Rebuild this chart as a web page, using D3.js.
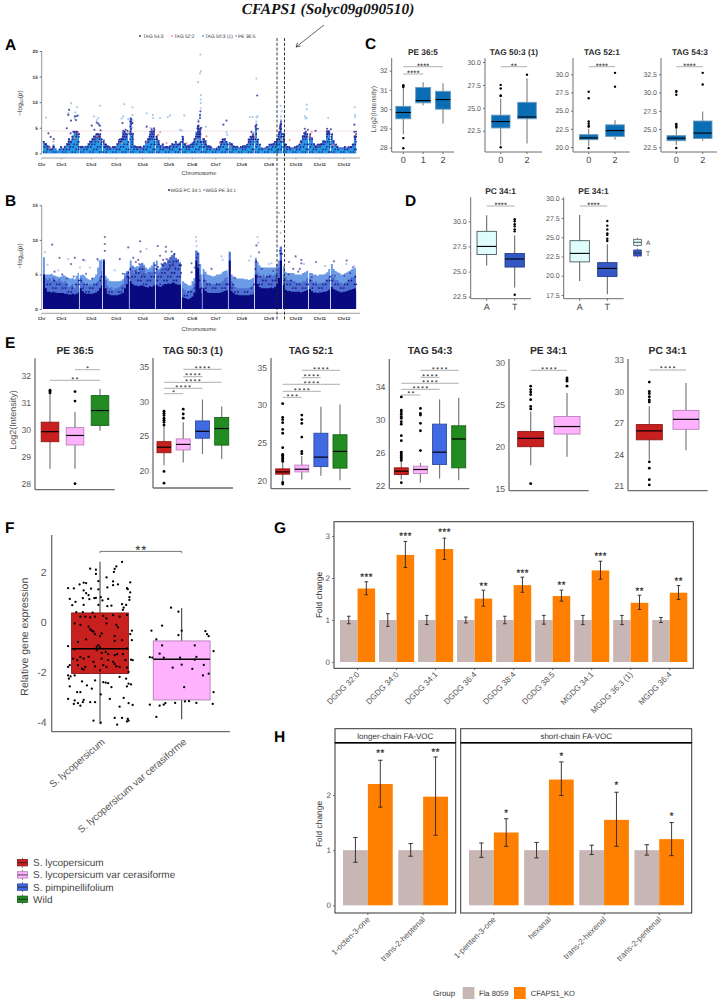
<!DOCTYPE html>
<html>
<head>
<meta charset="utf-8">
<style>
html,body{margin:0;padding:0;background:#fff}
svg{display:block;font-family:"Liberation Sans",Arial,sans-serif;text-rendering:geometricPrecision}
svg text{opacity:.99}
</style>
<script src="https://cdn.jsdelivr.net/npm/d3@7"></script>
</head>
<body>
<svg id="fig" width="722" height="1002"></svg>
<script>
// ---------- Genome-wide association data ----------
const chromNames = ["Chr","Chr1","Chr2","Chr3","Chr4","Chr5","Chr6","Chr7","Chr8","Chr9","Chr10","Chr11","Chr12"];
const chromLengths = [96,60,70,68,68,54,68,68,73,68,57,68]; // Mb
const binMb = 5;

// Peak -log10(p) reached in each 5 Mb window, one row per chromosome
const gwasNavy = [
 [2.4,2,1.6,1.3,1,1.7,1,.4,.8,1.4,1,1.5,2,3,2.5,3.5,4.3,4.3,4.2,4.2],
 [1.3,1.5,1.4,1.5,2,2.5,3,3.5,3.8,3.8,3.8,3],
 [2.7,1.8,1.6,1.4,1.2,1.4,1.4,2,2.8,3,4.2,4.3,4,2.4],
 [7,4,1.6,1.4,1.3,1.3,1.2,1.6,2.5,3,3.8,4.5,4.5,2.8],
 [3.5,2.6,1.6,1.9,1.3,1.3,1.3,1.6,2,1.8,2.4,1.8,2.2,2.5],
 [3.4,2,1.6,1.7,1.8,2.2,3,4.2,5.5,5,2.5],
 [3,2.6,1.6,1.6,1.3,1,1,1.2,1.5,2.3,2.8,3,2.4,1.8],
 [2.2,2,1.6,1.4,1.5,1.2,1.4,1.6,1.6,1.8,2.8,3.4,4,3.6],
 [5.5,2.8,1.8,1.2,1.1,1.2,1.4,1.8,1.8,2,2.4,3,4.2,6,4],
 [4,1.8,1.4,1.3,1.2,1.2,1.3,1.6,1.8,2.6,3.6,4.2,3.9,2.2],
 [3.8,3.2,2,1.6,1.8,1.8,2,2.6,2.5,4.5,4.5,2.5],
 [3.8,2.6,1.8,1.5,1.2,1.2,1.2,1.4,1.2,1.3,1.4,1.8,3.5,4.4]
];
const gwasCyan = [
 [1.8,1.4,1,.5,.5,.8,1,.6,.4,.9,.5,.8,1.5,1.2,1.8,3,3.6,3.5,3.5,3.4],
 [.8,1,1.2,.9,1.5,1.8,2,2.3,2.6,2.8,2.6,2],
 [1.7,1,.9,.8,.8,.7,.8,1.2,1.8,2,2.5,3,2.8,1.6],
 [4,2,1,.8,.7,.6,.7,1,1.8,2,2.5,3,3,1.5],
 [2.4,1.5,.9,1.2,.7,.8,.8,.9,1.3,1,1.6,1.2,1.5,1.6],
 [1.9,1.2,.9,1,1.1,1.4,1.8,2.6,3,2.6,1.5],
 [1.8,1.5,1,1,.8,.7,.6,.6,1,1.5,1.8,2.2,1.7,1.2],
 [1.6,1.4,1,1,1,.8,.9,1,1,1.2,1.8,2,2.3,2.2],
 [4.5,2,1.2,.8,.7,.8,.9,1.2,1.3,1.5,1.6,1.8,2.5,4,2.8],
 [2,1.2,.9,.8,.7,.8,.8,1,1.2,1.8,2.6,3,2.6,1.4],
 [3,2.2,1.4,1,1.2,1.2,1.5,1.8,1.6,3,3.6,1.5],
 [2.6,1.8,1.2,1,.9,.8,.8,.9,.8,.9,.9,1.1,2.5,3]
];
// Individual variants above the dense band: [cumulative Mb, -log10(p)]
const gwasCyanHits = [[410,19.3],[411,16],[409,15.6],[404,13.9],[411,11.4],[411,10.5],[411,9.8],[411,8.8],[556,14.6],[73,9.8],[148,9.3],[212,9.6],[233,9],[89,9],[8,7],[66,7.8],[86,7.2],[133,7.2],[144,6.9],[209,7.2],[222,6.7],[233,7.5],[233,6.5],[270,7.8],[286,7.5],[287,6.9],[305,6.9],[325,7.1],[331,7.4],[368,7.4],[539,7.1],[546,7.1],[559,7.2],[619,9.3],[622,8.2],[620,7.2],[687,9.5],[687,8.6],[682,7.2],[687,6.9],[743,6.9],[812,9],[813,7.5],[813,7.1],[409,7.2],[405,6.5],[424,5.2],[357,4.6],[361,4.5],[478,4.1],[480,3.6],[556,7],[556,6.2],[556,5.4],[233,6],[233,5],[84,8],[82,6.8],[92,7.4],[140,6.5],[146,5.5],[205,6.8],[280,5],[620,6.5],[684,6.8]];
const gwasNavyHits = [[558,11.3],[68,8.5],[66,7.5],[73,6.4],[62,4.9],[83,7.2],[89,7.3],[86,6.5],[127,5.4],[148,5.4],[144,5.8],[140,6],[207,5.9],[209,4.4],[220,4.4],[233,5.9],[270,5.2],[283,4.7],[289,4.9],[279,4.2],[410,8.2],[409,7.5],[409,6.9],[405,6.2],[402,4.9],[407,4.2],[478,6.4],[470,5.6],[543,4.2],[556,5.6],[620,6.2],[619,5.6],[617,4.9],[616,4.2],[685,4.2],[680,3.9],[743,4.2],[746,3.9],[811,5.6],[811,4.2],[813,3.3],[72,3.9],[79,4.2],[14,3.9],[20,3.2],[28,2.8],[134,4.6],[150,4.5],[215,4.6],[225,3.8],[290,4.6],[405,5.4],[412,5],[560,4.8],[618,5.2],[682,4.8],[690,4.6],[710,4.4],[740,4.8],[750,4.7]];
const gwasSalmonHits = [[92,3.9],[148,2.3],[140,3.3],[222,3.9],[305,4.1],[300,3.6],[426,3.3],[400,2.6],[548,3.9],[552,3.3],[700,4.2],[695,3.4],[643,2.6],[18,1],[27,2.3],[83,2.9],[205,2],[270,2.3],[322,2],[374,2],[461,2],[487,1.3],[621,2.6],[669,2],[756,1.6]];

const wgsLight = [
 [7.5,5,5,5,5.1,4.9,4.8,4.7,4.6,4.7,4.9,4.8,4.6,4.5,4.4,4.5,4.3,4.8,5.2,5.2],
 [4.9,5,4.8,4.5,4.3,4.2,4.4,4.6,5,6,7,7.2],
 [7.2,4.8,4.4,4.1,4,4,4,4,4,4.1,4.3,5.2,5.5,5.6],
 [7,6.3,6,6.2,6.2,6.5,6.7,6.4,6,5.8,6,6.3,6.8,7],
 [7,5.8,6,6.5,6.8,6.5,7,7,7.5,7.5,7.3,7,6.8,7.3],
 [4,3.8,3.6,3.4,3.4,4,4.5,8.5,8.2,6.5,5],
 [5.8,5.4,5,4.9,4.8,4.7,4.8,5,5,5.1,5.4,5.5,5.6,5.4],
 [8.3,5,4.7,4.5,4.4,4.4,4.4,4.4,4.3,4.3,4.2,4.3,4.5,4.6],
 [7.4,6.8,6.3,6,6,6,6,6,6,6,6,6.5,7,9,9.2],
 [6.2,5.4,5.2,5.2,5.2,5.2,5,5,5,5,5.2,5.3,5.5,5.8],
 [5.2,5.2,5,5,4.8,5,5,5,5.1,5.3,5.8,6],
 [6.5,5.8,5.5,5.3,5.2,5,5,5.2,5.3,5.5,5.7,5.8,6,5.2]
];
const wgsDark = [
 [5,3,2.5,2.5,2.4,2.5,2.4,2.3,2.3,2.3,2.3,2.2,2.2,2.1,2.1,2.2,2.1,2.2,2.4,3],
 [3,2.6,2.3,2.2,2.2,2.2,2.2,2.3,2.4,2.6,3,3.4],
 [7,3,2.2,2.1,2,2,2,2,2.1,2.2,2.3,3,3.6,4.8],
 [4,3.6,3.4,3.4,3.3,3.4,3.4,3.3,3.2,3.1,3.3,3.2,3.4,3.6],
 [3.5,3.3,3.2,3.4,3.6,3.6,3.7,3.6,3.8,3.8,3.6,3.5,3.5,3.4],
 [1.7,1.6,1.5,1.4,1.6,1.8,2.4,7,6,3,2.3],
 [3,2.6,2.4,2.3,2.3,2.3,2.3,2.3,2.3,2.4,2.5,2.6,2.7,2.6],
 [7,2.6,2.3,2.1,2.1,2,2,2,2,2,2,2.1,2.1,2.5],
 [5,3.6,3.2,3,3,3,3,3,3.1,3,3.2,3.6,4.5,7,7.4],
 [3.5,2.8,2.6,2.6,2.5,2.5,2.5,2.5,2.5,2.4,2.5,2.6,2.7,2.9],
 [2.9,2.6,2.4,2.4,2.3,2.4,2.4,2.5,2.5,2.6,2.8,3],
 [3.2,2.9,2.7,2.6,2.5,2.4,2.5,2.5,2.6,2.7,2.8,2.9,3,2.6]
];
// Upper reach of the sparser dark variants above the solid dark band
const wgsDarkFringe = [
 [5,4.5,4.2,4.5,4,4.6,4.2,4,4.4,4,3.8,4,3.6,3.2,3.4,3.6,3,3.6,4.2,4.6],
 [4.5,4,3.6,3.6,3.4,3.6,3.4,3.6,3.8,4,4.6,5.5],
 [7.2,4.2,3.4,3,3.2,2.8,3,3,3.2,3.4,3.6,4.6,5.2,5.5],
 [6,5.6,5.2,5.8,5.4,6.2,6.6,6,5.2,5,5.4,5.4,6,6.4],
 [6,5.4,5.8,6.4,6.8,6.6,7.2,7.4,7.8,8,7.4,7.2,6.6,6.4],
 [3,2.8,2.4,2.6,2.8,3,3.6,8.4,8,5,3.8],
 [5,4.2,3.8,3.8,3.6,3.6,3.6,3.8,3.6,3.8,4,4.4,4.6,4.2],
 [8.2,4,3.6,3.2,3,3,3,3,3,3,3,3.2,3.4,3.8],
 [7,5.2,4.8,4.8,5,4.6,4.8,5,5,4.8,5,5.4,6,9,9],
 [5,4.6,4.2,4.2,4.2,4,4,3.8,3.8,3.8,4,4,4.4,4.6],
 [4.4,4.2,3.8,4,3.6,3.8,3.8,3.8,4,4.2,4.6,4.8],
 [5,4.6,4.2,4.2,3.8,3.8,3.6,3.8,4,4.2,4.6,4.6,4.8,4.2]
];
const wgsDarkHits = [[24,9.3],[43,7.4],[73,6.5],[83,7.4],[105,7.1],[142,7.2],[161,10.4],[161,9.4],[161,8.4],[200,7.2],[222,8.9],[253,9.8],[254,8.3],[235,7.4],[242,6.8],[248,7.1],[251,6.5],[235,6],[299,9.1],[320,9],[320,8.3],[335,8.3],[305,7.7],[313,7.1],[322,7.2],[326,6.8],[332,7.4],[332,6.8],[318,6.6],[309,6.5],[339,6.5],[331,6],[344,6],[352,7],[387,6.6],[387,5.3],[439,5.8],[556,9.2],[563,8.2],[617,8.4],[641,6.8],[652,5.8],[658,7.6],[673,7.1],[673,6.6],[669,5.8],[711,6.8],[758,6.9],[791,7],[807,6],[30,5.4],[50,5],[62,4.4],[80,4.7],[112,5.1],[128,4.4],[208,5.1],[225,4.5],[240,5.5],[262,5],[275,5.2],[300,6.1],[312,5.7],[325,5.6],[340,5.2],[395,6],[500,4.5],[570,5.8],[600,5.5],[640,5],[665,5.4],[700,4.6],[760,4.8],[785,4.8],[800,5.2]];
const wgsLightHits = [[5,8.2],[12,6.4],[66,7.2],[40,5.6],[96,6],[109,7],[122,6],[144,7],[187,5.6],[270,8.7],[465,7.6],[468,7.1],[537,7],[541,7.6],[588,6.5],[595,6.6],[399,10.4],[399,9.8],[400,9.1],[559,10.4],[561,9.6],[615,13.9],[620,12.7],[619,11],[680,6.5],[735,6.2],[790,6.5],[810,6.2]];

// ---------- Box plot statistics: [q1, median, q3, whisker low, whisker high] ----------
const cTitles = ["PE 36:5","TAG 50:3 (1)","TAG 52:1","TAG 54:3"];
const cGroups = [["0","1","2"],["0","2"],["0","2"],["0","2"]];
const cBoxes = [
 [[29.5,29.83,30.15,28.7,31.1],[30.33,30.45,31.13,30.2,31.4],[30,30.5,30.93,29.25,31.35]],
 [[22.8,23.5,24.2,20.9,26],[23.8,24,25.6,21.1,28.2]],
 [[21,21.25,21.7,20.1,22.5],[21.45,22.25,23.05,21,23.7]],
 [[23.4,23.75,24.1,22.8,25],[23.7,24.45,26.1,23.4,27.4]]
];
const cOutliers = [
 [[28.5,27.97,31.15,31.2,31.25],[],[]],
 [[20.7,26.3,26.35,27.1,27.5],[28.6]],
 [[19.85,22.8,22.9,23.2,23.5,26.7,27.6],[28.3,30.2]],
 [[22.4,25.2,25.4,25.6,25.7,29.7,30.1,30.2],[31.1,32.7]]
];
const cTicks = [[28,29,30,31,32],[22.5,25,27.5,30],[20,22.5,25,27.5,30],[22.5,25,27.5,30,32.5]];
const cStars = [[["****",0,1],["****",0,2]],[["**",0,1]],[["****",0,1]],[["****",0,1]]];

const dTitles = ["PC 34:1","PE 34:1"];
const dGroups = ["A","T"];
const dBoxes = [
 [[26.7,27.5,29,25.6,30.6],[25.45,26.25,26.8,23.4,28.6]],
 [[21.8,22.9,24.55,19.3,27.9],[19.9,20.95,21.7,17.6,24.1]]
];
const dOutliers = [
 [[],[22.7,29,29.2,29.5,29.7,30,30.2]],
 [[],[24.5,24.8,25.3,25.5,26,26.5,27.1]]
];
const dTicks = [[22.5,25,27.5,30],[17.5,20,22.5,25,27.5,30]];

const eTitles = ["PE 36:5","TAG 50:3 (1)","TAG 52:1","TAG 54:3","PE 34:1","PC 34:1"];
const eBoxes = [
 [[29.55,29.92,30.27,28.55,31.3],[29.43,29.78,30.07,28.55,30.65],[30.15,30.7,31.25,29.95,31.5]],
 [[22.6,23.4,24.2,20.8,26.5],[23,23.8,24.6,21.2,27],[24.7,25.7,27.2,22.4,30.3],[23.7,26.1,27.7,21.7,29.3]],
 [[20.9,21.2,21.6,20,22.5],[21.2,21.55,22.1,20.2,23.3],[21.9,23.15,26.3,20.7,29.8],[21.7,23.9,26.1,20.1,30.1]],
 [[23.4,23.8,24.2,22.8,25],[23.5,24,24.4,22.4,24.8],[24.6,26.1,29.5,22.9,32.5],[24.2,27.7,29.3,22.7,32.7]],
 [[20,21,21.8,17.8,24.2],[21.5,22.4,23.6,18.8,26.4]],
 [[25.4,26.25,26.85,23.5,28.6],[26.4,27.35,28.2,24.4,30.8]]
];
const eOutliers = [
 [[31.35,31.4,31.45],[28,31.05,31.4],[]],
 [[18.2,19.9,26.6,27,27.3,27.6,28,28.3,28.6],[27.6,28.2,28.9],[],[]],
 [[19.6,19.8,22.6,22.8,23,23.2,23.4,23.5,24.4,26.3,26.8,27.7,28.1,28.4,30.2],[23.6,23.9,25.8,27.6,28.1,28.7],[],[]],
 [[22.4,25.1,25.3,25.5,25.7,25.9,26.1,27.5,28.1,29.5,29.8,30.2,30.4,30.7,31,31.2,32.8],[26.3,28.7,29.6,30.6,30.8,31.4],[],[]],
 [[15.6,24.5,24.8,25.6,26.2,26.5,26.8,27.2],[27.2,27.8,28,28.2]],
 [[21.1,21.6,22.7,23.3,29,29.2,29.5,29.8,30,30.9],[]]
];
const eTicks = [[28,29,30,31,32],[20,25,30,35],[20,25,30,35],[22,26,30,34],[15,20,25,30],[21,24,27,30,33]];
const eStars = [
 [["*",1,2],["**",0,2]],
 [["****",1,3],["****",1,2],["****",0,3],["****",0,2],["*",0,1]],
 [["****",1,3],["****",1,2],["****",0,3],["****",0,2],["***",0,1]],
 [["****",1,3],["****",1,2],["****",0,3],["****",0,2],["**",0,1]],
 [["****",0,1]],
 [["****",0,1]]
];
const speciesNames = ["S. lycopersicum","S. lycopersicum var cerasiforme","S. pimpinellifolium","Wild"];
const speciesColors = ["#c8201f","#ffb3ff","#4169e1","#228b22"];

// ---------- Gene expression ----------
const fGroups = ["S. lycopersicum","S. lycopersicum var cerasiforme"];
const fBoxes = [[-2.07,-1.08,.35,-4.1,2.4],[-3.13,-1.5,-.77,-3.9,.55]];
const fLycoPoints = [[.27,2.39],[.2,2.21],[.18,2.11],[.17,1.99],[-.12,2.12],[-.05,2.08],[-.05,1.91],[.08,1.77],[.16,1.61],[.22,1.49],[.37,1.57],[-.02,1.62],[-.39,1.34],[-.32,1.33],[-.25,1.49],[-.2,1.56],[-.17,1.54],[-.11,1.32],[-.02,1.29],[.09,1.37],[.16,1.46],[.33,1.34],[.34,1.3],[.37,1.17],[-.2,1.25],[-.17,1.14],[-.14,1.06],[-.37,.91],[-.3,.79],[-.21,.94],[-.13,.9],[-.07,.94],[-.05,.95],[.01,.98],[.03,.85],[.1,.91],[.27,.7],[.36,.98],[.36,.87],[-.34,.66],[-.2,.67],[-.02,.67],[.09,.62],[.14,.64],[.29,.56],[.32,.67],[.28,.47],[-.29,.38],[-.21,.38],[-.09,.36],
 [-.24,.2],[-.18,.2],[-.12,.17],[-.06,.2],[.04,.23],[.08,.13],[.16,.26],[.24,.2],[.33,.27],[-.31,-.07],[-.24,-.13],[-.14,-.2],[-.12,-.31],[-.1,-.36],[-.08,-.4],[-.06,-.5],[0,-.58],[.02,-.47],[.2,-.13],[.22,-.23],[.08,-.07],[.18,-.58],[.27,-.74],[.39,-.36],[.37,-.5],[.39,-.74],[-.17,-.71],[-.27,-.81],[-.39,-.98],[-.04,-1.01],[-.02,-.94],[0,-1.03],[.18,-.77],[-.31,-1.11],[-.24,-1.41],[-.2,-1.48],[-.14,-1.41],[-.04,-1.14],[.02,-1.25],[.07,-1.21],[.1,-1.3],[.18,-1.34],[.21,-1.3],[.28,-1.3],[.33,-1.07],[-.33,-1.48],[-.28,-1.54],[-.08,-1.61],[.02,-1.48],[.1,-1.54],[.16,-1.61],[.31,-1.54],[.38,-1.52],[.4,-1.54],[-.37,-1.74],[-.39,-1.81],[-.27,-1.74],[-.18,-1.81],[-.06,-1.79],[.04,-1.74],[.08,-1.81],[.2,-1.79],[.24,-1.81],[.33,-1.84],[-.22,-1.88],[-.2,-1.92],[0,-1.95],[.35,-2.01],[.18,-1.7],
 [-.39,-2.15],[-.36,-2.19],[-.38,-2.28],[-.31,-2.15],[-.22,-2.39],[-.16,-2.55],[-.06,-2.35],[.04,-2.42],[.07,-2.44],[.1,-2.46],[.14,-2.62],[.24,-2.21],[.32,-2.28],[.35,-2.48],[.38,-2.51],[.33,-2.59],[-.37,-2.59],[-.1,-2.68],[-.28,-2.82],[-.24,-2.82],[.01,-2.91],[-.39,-3.09],[-.31,-3.15],[-.2,-3.13],[-.12,-3.22],[-.06,-3.22],[.12,-3.09],[.29,-3.05],[.35,-3.26],[.4,-3.33],[-.27,-3.26],[-.32,-3.29],[-.21,-3.22],[-.24,-3.36],[.24,-3.4],[.18,-3.85],[.27,-3.85],[.34,-3.89],[-.08,-3.96],[.01,-4.04],[.21,-4.12],[.33,-3.99],[.35,-3.96]];
const fCerasPoints = [[-.13,.56],[-.04,.4],[-.37,-.36],[-.24,-.16],[0,-.36],[-.04,-.54],[.29,-.38],[.31,-.5],[.33,-.58],[-.31,-.71],[-.24,-.95],[.16,-.95],[-.27,-1.28],[.39,-1.18],[-.39,-1.42],[-.36,-1.44],[-.22,-1.44],[-.02,-1.44],[.18,-1.41],[.16,-1.52],[-.11,-1.84],[0,-1.72],[.13,-1.89],[.27,-1.73],[.26,-2.15],[.33,-2.08],[.03,-2.62],[.39,-2.82],[-.39,-3.32],[-.27,-3.36],[-.22,-3.32],[-.2,-3.26],[-.08,-3.25],[.04,-3.19],[.09,-3.18],[.18,-3.25],[.38,-3.29],[-.31,-3.81]];

// ---------- Fold-change bars ----------
const bothGroups = ["Fla 8059","CFAPS1_KO"];
const groupColors = ["#c8b6b4","#ff8000"];
const gLipids = ["DGDG 32:0","DGDG 34:0","DGDG 34:1","DGDG 36:4","DGDG 38:4","DGDG 38:5","MGDG 34:1","MGDG 36:3 (1)","MGDG 36:4"];
const gControl = [1,1,1,1,1,1,1,1,1];
const gControlErr = [[.91,1.09],[.85,1.15],[.89,1.11],[.93,1.07],[.91,1.09],[.9,1.11],[.89,1.11],[.89,1.11],[.94,1.06]];
const gKnockout = [1.75,2.55,2.69,1.51,1.83,1.57,2.18,1.41,1.65];
const gKnockoutErr = [[1.6,1.91],[2.25,2.87],[2.44,2.95],[1.33,1.71],[1.66,2.02],[1.45,1.71],[1.97,2.4],[1.25,1.59],[1.49,1.82]];
const gSignif = ["***","***","***","**","***","**","***","**","**"];
const gSignifLevel = [2.09,3.05,3.14,1.86,2.17,1.9,2.57,1.75,1.98];

const hFacets = ["longer-chain FA-VOC","short-chain FA-VOC"];
const hVolatiles = [["1-octen-3-one","trans-2-heptenal"],["1-penten-3-one","hexanal","trans-2-hexenal","trans-2-pentenal"]];
const hControl = [[1,1],[1,1,1,1]];
const hControlErr = [[[.78,1.23],[.89,1.12]],[[.87,1.13],[.86,1.14],[.92,1.09],[.91,1.1]]];
const hKnockout = [[2.2,1.97],[1.32,2.28,1.55,1.2]];
const hKnockoutErr = [[[1.78,2.63],[1.27,2.69]],[[1.07,1.57],[1.99,2.6],[1.07,2.05],[.9,1.5]]];
const hSignif = [["**","**"],["*","*","*","*"]];
const hSignifLevel = [[2.8,2.83],[1.71,2.75,2.23,1.66]];

// ---------- Shared drawing helpers ----------
const svg = d3.select("#fig");
const TICK = "#555", AXIS = "#6e6e6e";

function label(g, x, y, txt, o = {}) {
  const t = g.append("text").attr("x", x).attr("y", y).text(txt)
    .attr("font-size", o.size || 8).attr("fill", o.fill || TICK)
    .attr("text-anchor", o.anchor || "middle");
  if (o.weight) t.attr("font-weight", o.weight);
  if (o.family) t.attr("font-family", o.family);
  if (o.italic) t.attr("font-style", "italic");
  return t;
}
// Significance stars: spacing is given in em so stacked brackets can use small, widely set type
function stars(g, x, yCenter, txt, size, spacing, fill) {
  const ink = fill || "#3c3c3c";
  label(g, x + size * spacing / 2, yCenter + size * 0.56, txt, {size, fill: ink})
    .attr("letter-spacing", size * spacing).attr("stroke", ink).attr("stroke-width", .2);
}
function styleAxis(sel, size, color) {
  sel.selectAll("path,line").attr("stroke", AXIS);
  sel.selectAll("text").attr("font-size", size).attr("fill", color || TICK).attr("font-family", null);
}

// One ggplot-like box with whiskers, thick median and outlier dots
function drawBox(g, cx, halfW, y, stat, outs, fill, edge, medW, dotR, whisker) {
  const [q1, med, q3, lo, hi] = stat;
  g.append("line").attr("x1", cx).attr("x2", cx).attr("y1", y(lo)).attr("y2", y(hi))
    .attr("stroke", whisker.color).attr("stroke-width", whisker.width);
  g.append("rect").attr("x", cx - halfW).attr("width", halfW * 2)
    .attr("y", y(q3)).attr("height", y(q1) - y(q3))
    .attr("fill", fill).attr("stroke", edge).attr("stroke-width", .9);
  g.append("line").attr("x1", cx - halfW).attr("x2", cx + halfW).attr("y1", y(med)).attr("y2", y(med))
    .attr("stroke", "#000").attr("stroke-width", medW);
  g.selectAll(null).data(outs).join("circle")
    .attr("cx", cx).attr("cy", d => y(d)).attr("r", dotR).attr("fill", "#000");
}

function boxPanel(p, title, groups, boxes, outs, ticks, fills, edges, brackets, style) {
  const g = svg.append("g");
  const y = d3.scaleLinear().domain([ticks[0], ticks[ticks.length - 1]]).range([p.y0, p.y1]);
  const x = d3.scalePoint().domain(groups).range([p.c0, p.c1]);
  const left = d3.axisLeft(y).tickValues(ticks).tickSize(2).tickPadding(2)
    .tickFormat(d => style.tickFmt(d));
  const ya = g.append("g").attr("transform", `translate(${p.x0},0)`).call(left);
  ya.select(".domain").attr("d", `M0,${p.top}V${p.bottom}`);
  styleAxis(ya, style.tickSize);
  if (style.noYTick) ya.selectAll(".tick line").remove();
  g.append("line").attr("x1", p.x0).attr("x2", p.x1).attr("y1", p.bottom).attr("y2", p.bottom)
    .attr("stroke", AXIS).attr("stroke-width", style.axisW || 1);
  ya.select(".domain").attr("stroke-width", style.axisW || 1);
  if (style.showX !== false) {
    groups.forEach(c => {
      g.append("line").attr("x1", x(c)).attr("x2", x(c)).attr("y1", p.bottom).attr("y2", p.bottom + 2).attr("stroke", AXIS);
      label(g, x(c), p.bottom + style.xOff, c, {size: style.xSize, fill: "#444"});
    });
  }
  label(g, p.titleX, p.titleY, title, {size: style.titleSize, weight: "bold", fill: "#2a2a2a"});
  groups.forEach((c, i) => drawBox(g, x(c), style.halfW, y, boxes[i], outs[i], fills[i], edges[i], style.medW, style.dotR, style.whisker));
  (brackets || []).forEach((b, i) => {
    const by = p.levels[i];
    g.append("line").attr("x1", x(groups[b[1]])).attr("x2", x(groups[b[2]])).attr("y1", by).attr("y2", by)
      .attr("stroke", "#9a9a9a").attr("stroke-width", .8);
    stars(g, (x(groups[b[1]]) + x(groups[b[2]])) / 2, by - style.starGap, b[0], style.starSize, style.starSpacing);
  });
}

// ---------- Panels A and B: Manhattan plots ----------
const genomeTotal = d3.sum(chromLengths);
const xGenome = d3.scaleLinear().domain([0, genomeTotal]).range([43, 357]);
const chromStart = d3.cumsum([0].concat(chromLengths));
const chromEnd = c => chromStart[c] + chromLengths[c] - 2.4;

// Solid band for one series, one stepped area per chromosome so the gaps between chromosomes stay white
function bandAreas(g, rows, y, color) {
  rows.forEach((row, c) => {
    const pts = row.map((v, i) => [Math.min(chromStart[c] + i * binMb, chromEnd(c)), v]);
    pts.push([chromEnd(c), row[row.length - 1]]);
    g.append("path").datum(pts).attr("fill", color)
      .attr("d", d3.area().curve(d3.curveStepAfter).x(d => xGenome(d[0])).y0(y(0)).y1(d => y(d[1])));
  });
}
// Scattered variants inside a window, from a floor height up to the window's measured reach
function stackDots(g, rows, floors, y, color, keep, step, r) {
  rows.forEach((row, c) => {
    row.forEach((top, i) => {
      const floor = floors ? floors[c][i] : 0;
      [1.2, 3.6].forEach((off, col) => {
        const mb = Math.min(chromStart[c] + i * binMb + off, chromEnd(c));
        d3.range(0, top, step).forEach((v, k) => {
          if (v + step / 2 > top) return;
          if (!keep(v, floor, k + i * 2 + col * 3)) return;
          g.append("circle").attr("cx", xGenome(mb)).attr("cy", y(v + step / 2)).attr("r", r).attr("fill", color);
        });
      });
    });
  });
}
function hitDots(g, hits, y, color, op) {
  g.selectAll(null).data(hits).join("circle")
    .attr("cx", d => xGenome(d[0])).attr("cy", d => y(d[1])).attr("r", 1.1)
    .attr("fill", color).attr("opacity", op);
}
function manhattanFrame(g, y, ticks, axisTop, axisY, labelY, chrY, ylabX, ylabCY) {
  const a = g.append("g").attr("transform", "translate(41.7,0)")
    .call(d3.axisLeft(y).tickValues(ticks).tickSize(2).tickPadding(2));
  styleAxis(a, 4.6, "#333");
  a.selectAll("text").attr("font-weight", "bold");
  a.select(".domain").attr("d", `M0,${axisTop}V${y(0)}`).attr("stroke", "#999").attr("stroke-width", 1);
  g.append("line").attr("x1", 41.7).attr("x2", 360).attr("y1", axisY).attr("y2", axisY).attr("stroke", "#888").attr("stroke-width", .8);
  const centres = [41.7].concat(chromLengths.map((l, i) => xGenome(chromStart[i] + l / 2)));
  centres.forEach((cx, i) => {
    g.append("line").attr("x1", cx).attr("x2", cx).attr("y1", axisY).attr("y2", axisY + 1.5).attr("stroke", "#888").attr("stroke-width", .6);
    label(g, cx, chrY, chromNames[i], {size: 4.4, fill: "#333", weight: "bold"});
  });
  label(g, 199, labelY, "Chromosome", {size: 5.8, fill: "#333"});
  const yl = g.append("text").attr("transform", `translate(${ylabX},${ylabCY}) rotate(-90)`)
    .attr("text-anchor", "middle").attr("font-size", 6.5).attr("fill", "#333");
  yl.append("tspan").text("\u2212log");
  yl.append("tspan").text("10").attr("font-size", 4.4).attr("dy", 1.2);
  yl.append("tspan").text("(").attr("dy", -1.2);
  yl.append("tspan").text("p").attr("font-style", "italic");
  yl.append("tspan").text(")");
}

const gA = svg.append("g");
const yA = d3.scaleLinear().domain([0, 20]).range([153.3, 51]);
gA.append("line").attr("x1", 43).attr("x2", 357).attr("y1", yA(4.35)).attr("y2", yA(4.35)).attr("stroke", "#ecd8dc").attr("stroke-width", .8);
hitDots(gA, gwasCyanHits, yA, "#8bb8e6", .75);
bandAreas(gA, gwasNavy, yA, "#4a6fd0");
bandAreas(gA, gwasCyan, yA, "#239be4");
stackDots(gA, gwasNavy, gwasCyan, yA, "#23238e", (v, floor, k) => (v >= floor && k % 2 === 0) || k % 5 === 0, .5, .85);
hitDots(gA, gwasNavyHits, yA, "#2c2c8e", .8);
hitDots(gA, gwasSalmonHits, yA, "#e88a7c", .8);
manhattanFrame(gA, yA, [0, 5, 10, 15, 20], 51, 158, 175, 166, 22, 103);

[[140, "#1d1d80", "TAG 54:3", 143], [172, "#e8a09a", "TAG 52:2", 174], [203, "#3aa0e0", "TAG 50:3 (1)", 205], [236, "#7db4e8", "PE 36:5", 238]].forEach(d => {
  gA.append("circle").attr("cx", d[0]).attr("cy", 36).attr("r", .9).attr("fill", d[1]);
  label(gA, d[3], 37.8, d[2], {size: 4.9, anchor: "start", fill: "#333"});
});

const gB = svg.append("g");
const yB = d3.scaleLinear().domain([0, 15]).range([309, 205.3]);
hitDots(gB, wgsLightHits, yB, "#9cbcea", .8);
bandAreas(gB, wgsLight, yB, "#6c9be6");
bandAreas(gB, wgsDarkFringe, yB, "#4d70d2");
stackDots(gB, wgsDarkFringe, wgsDark, yB, "#1a1a88", (v, floor, k) => v >= floor && k % 5 === 0, .55, .9);
bandAreas(gB, wgsDark, yB, "#0a0a80");
hitDots(gB, wgsDarkHits, yB, "#3a3590", .7);
manhattanFrame(gB, yB, [0, 5, 10, 15], 205.3, 313.3, 331, 320, 22, 256);
[[169, "#10107f", "WGS PC 34:1", 170.5], [204, "#7da6ea", "WGS PE 34:1", 205.5]].forEach(d => {
  gB.append("circle").attr("cx", d[0]).attr("cy", 190).attr("r", .9).attr("fill", d[1]);
  label(gB, d[3], 191.8, d[2], {size: 4.9, anchor: "start", fill: "#333"});
});

// Gene interval marker spanning both Manhattan plots
[277, 284.5].forEach(x => svg.append("line").attr("x1", x).attr("x2", x).attr("y1", 38).attr("y2", 320)
  .attr("stroke", "#222").attr("stroke-width", .9).attr("stroke-dasharray", "3,1.8"));
label(svg, 328, 14, "CFAPS1 (Solyc09g090510)", {size: 15.4, weight: "bold", italic: true, family: "Liberation Serif", fill: "#111"});
svg.append("path").attr("d", "M324,25L296,47M296,47l1.6,-4.5M296,47l4.6,-1").attr("fill", "none").attr("stroke", "#222").attr("stroke-width", .7);

// ---------- Panel C ----------
const cLayout = [
 {x0:391.7,x1:454,top:58,bottom:152,y0:147.7,y1:70.7,c0:403.3,c1:443,titleX:423,titleY:55,levels:[74,66.7]},
 {x0:485,x1:542,top:58,bottom:152,y0:130.7,y1:62,c0:500.7,c1:527,titleX:514,titleY:55,levels:[66.7]},
 {x0:573,x1:629.7,top:58,bottom:152,y0:147,y1:74.3,c0:588.7,c1:615,titleX:602,titleY:55,levels:[66.7]},
 {x0:661,x1:717,top:58,bottom:152,y0:147.3,y1:74.3,c0:676.3,c1:702.7,titleX:690,titleY:55,levels:[66.7]}
];
cTitles.forEach((t, i) => {
  const n = cGroups[i].length;
  boxPanel(cLayout[i], t, cGroups[i], cBoxes[i], cOutliers[i], cTicks[i],
    d3.range(n).map(() => "#0b6db4"), d3.range(n).map(() => "#6f9cbd"), cStars[i],
    {tickFmt: d => (i === 0 ? d : d3.format(".1f")(d)), tickSize: 7, xSize: 9, xOff: 11, titleSize: 8.3,
     halfW: i === 0 ? 7.5 : 9.3, medW: 1.1, dotR: 1.2, starGap: 2.4, starSize: 6.4, starSpacing: .1, whisker: {color: "#707070", width: 1}});
});
label(svg, 0, 0, "Log2(Intensity)", {size: 7, fill: "#555"}).attr("transform", "translate(376,109) rotate(-90)");

// ---------- Panel D ----------
const dLayout = [
 {x0:470.7,x1:531,top:197.3,bottom:298.7,y0:296.7,y1:221.3,c0:486.7,c1:514.7,titleX:500.5,titleY:193.5,levels:[206]},
 {x0:563.7,x1:623.7,top:197.3,bottom:298.7,y0:295,y1:198.7,c0:579.7,c1:607.3,titleX:593.5,titleY:193.5,levels:[206]}
];
const dFills = ["#dffdfd","#3358c4"], dEdges = ["#4a5a5e","#27408f"];
dTitles.forEach((t, i) => boxPanel(dLayout[i], t, dGroups, dBoxes[i], dOutliers[i], dTicks[i], dFills, dEdges, [["****",0,1]],
  {tickFmt: d3.format(".1f"), tickSize: 7, xSize: 9, xOff: 11, titleSize: 8.4, halfW: 9.7, medW: 1.1, dotR: 1.2, starGap: 2.4, starSize: 6.4, starSpacing: .1, whisker: {color: "#5c5c5c", width: 1}}));
dGroups.forEach((c, i) => {
  const ky = 242.3 + i * 10.7;
  svg.append("line").attr("x1", 637.5).attr("x2", 637.5).attr("y1", ky - 4.6).attr("y2", ky + 4.6).attr("stroke", "#555").attr("stroke-width", .7);
  svg.append("rect").attr("x", 633.7).attr("y", ky - 3).attr("width", 7.6).attr("height", 6).attr("fill", dFills[i]).attr("stroke", dEdges[i]).attr("stroke-width", .8);
  svg.append("line").attr("x1", 633.7).attr("x2", 641.3).attr("y1", ky).attr("y2", ky).attr("stroke", "#222").attr("stroke-width", .8);
  label(svg, 646, ky + 2.5, c, {size: 6.6, anchor: "start", fill: "#444"});
});

// ---------- Panel E ----------
const eLayout = [
 {x0:35,x1:114.7,top:358.3,bottom:489.7,y0:483.7,y1:375.3,c0:50,c1:100,titleX:75,titleY:354,levels:[369.7,380.3],halfW:8.8},
 {x0:153,x1:233,top:358,bottom:488,y0:470.7,y1:367,c0:164,c1:221.7,titleX:193,titleY:354,levels:[369.3,376.7,382.3,388.3,393.7],halfW:7},
 {x0:271,x1:350.7,top:358,bottom:488.7,y0:481,y1:367.3,c0:282.7,c1:340,titleX:311,titleY:354,levels:[370.3,377.7,384.3,391.3,397.3],halfW:7},
 {x0:389.3,x1:469.3,top:359,bottom:488.7,y0:486,y1:387,c0:401.3,c1:458.7,titleX:430,titleY:354,levels:[370.3,377.3,383.3,389.3,395],halfW:7},
 {x0:509,x1:588.7,top:359,bottom:490.7,y0:488.7,y1:362.7,c0:530.7,c1:567,titleX:548.5,titleY:354,levels:[370.3],halfW:13},
 {x0:628,x1:707.7,top:359,bottom:490.7,y0:486,y1:360,c0:649.3,c1:686,titleX:667.5,titleY:354,levels:[370],halfW:13}
];
eTitles.forEach((t, i) => {
  const n = eBoxes[i].length;
  const groups = (n === 3 ? [0, 1, 3] : d3.range(n)).map(k => speciesNames[k]);
  const fills = (n === 3 ? [0, 1, 3] : d3.range(n)).map(k => speciesColors[k]);
  boxPanel(eLayout[i], t, groups, eBoxes[i], eOutliers[i], eTicks[i], fills, fills.map(f => d3.color(f).darker(.9).formatHex()), eStars[i],
    {tickFmt: d => d, tickSize: 8.6, showX: false, titleSize: 10.3, halfW: eLayout[i].halfW, medW: 1.2, dotR: 1.4, starGap: 2.6, starSize: 5.4, starSpacing: .4, axisW: 1.3, noYTick: true, whisker: {color: "#7a7a7a", width: 1.2}});
});
label(svg, 0, 0, "Log2(Intensity)", {size: 9, fill: "#555"}).attr("transform", "translate(16,420) rotate(-90)");

// ---------- Panel F ----------
const gF = svg.append("g");
const yF = d3.scaleLinear().domain([-4, 2]).range([721.7, 571.7]);
const xF = d3.scalePoint().domain(fGroups).range([100, 181.7]);
const spacingF = xF(fGroups[1]) - xF(fGroups[0]);
const axF = gF.append("g").attr("transform", "translate(51.7,0)")
  .call(d3.axisLeft(yF).tickValues([-4, -2, 0, 2]).tickSize(0).tickPadding(5).tickFormat(d => d));
styleAxis(axF, 10.5);
axF.select(".domain").attr("d", "M0,535V731.7").attr("stroke-width", 1.3);
gF.append("line").attr("x1", 51.7).attr("x2", 230).attr("y1", 731.7).attr("y2", 731.7).attr("stroke", AXIS).attr("stroke-width", 1.2);
[0, 1].forEach(i => drawBox(gF, xF(fGroups[i]), 28.4, yF, fBoxes[i], [], speciesColors[i], d3.color(speciesColors[i]).darker(1).formatHex(), 1.6, 0, {color: "#333", width: 1}));
[[fLycoPoints, 0], [fCerasPoints, 1]].forEach(([pts, k]) => {
  gF.selectAll(null).data(pts).join("circle")
    .attr("cx", d => xF(fGroups[k]) + d[0] * spacingF).attr("cy", d => yF(d[1])).attr("r", 1.15).attr("fill", "#000");
});
gF.append("path").attr("d", `M${xF(fGroups[0])},553.2V551.4H${xF(fGroups[1])}V553.2`).attr("fill", "none").attr("stroke", "#555").attr("stroke-width", .8);
stars(gF, (xF(fGroups[0]) + xF(fGroups[1])) / 2, 547.5, "**", 12, .1);
label(gF, 0, 0, "Relative gene expression", {size: 10.5, fill: "#444"}).attr("transform", "translate(27.5,636.7) rotate(-90)");
fGroups.forEach(c => {
  label(gF, 0, 0, c, {size: 9.8, anchor: "end", fill: "#555"}).attr("transform", `translate(${xF(c) + 5.5},743) rotate(-40.5)`);
});
speciesNames.forEach((s, i) => {
  const ky = 862.7 + i * 12.2;
  gF.append("line").attr("x1", 22.5).attr("x2", 22.5).attr("y1", ky - 5).attr("y2", ky + 5).attr("stroke", "#444").attr("stroke-width", .7);
  gF.append("rect").attr("x", 17.5).attr("y", ky - 3.2).attr("width", 10).attr("height", 6.4)
    .attr("fill", speciesColors[i]).attr("stroke", d3.color(speciesColors[i]).darker(1).formatHex()).attr("stroke-width", .8);
  gF.append("line").attr("x1", 17.5).attr("x2", 27.5).attr("y1", ky).attr("y2", ky).attr("stroke", "#222").attr("stroke-width", .8);
  label(gF, 33, ky + 3.4, s, {size: 10, anchor: "start", fill: "#444"});
});

// ---------- Panels G and H: grouped bars with error bars ----------
function groupedBars(g, cats, control, controlErr, knockout, knockoutErr, signif, signifLevel, xRange, y, starSize, capW) {
  const x = d3.scaleBand().domain(cats).range(xRange).paddingInner(.1).paddingOuter(0);
  const sub = d3.scaleBand().domain(bothGroups).range([0, x.bandwidth()]);
  [[control, controlErr], [knockout, knockoutErr]].forEach(([vals, errs], s) => {
    g.selectAll(null).data(vals).join("rect")
      .attr("x", (d, i) => x(cats[i]) + sub(bothGroups[s])).attr("width", sub.bandwidth())
      .attr("y", d => y(d)).attr("height", d => y(0) - y(d))
      .attr("fill", groupColors[s]);
    g.selectAll(null).data(errs).join("path")
      .attr("d", (d, i) => {
        const cx = x(cats[i]) + sub(bothGroups[s]) + sub.bandwidth() / 2;
        return `M${cx - capW},${y(d[1])}H${cx + capW}M${cx},${y(d[1])}V${y(d[0])}M${cx - capW},${y(d[0])}H${cx + capW}`;
      })
      .attr("fill", "none").attr("stroke", "#2a2222").attr("stroke-width", .9);
  });
  cats.forEach((c, i) => {
    const cx = x(c) + sub(bothGroups[1]) + sub.bandwidth() / 2;
    stars(g, cx, y(signifLevel[i]), signif[i], starSize, .05, "#1c1c1c");
  });
  return x;
}
function slantedLabels(g, cats, x, yPos, size) {
  cats.forEach(c => {
    const cx = x(c) + x.bandwidth() / 2;
    g.append("line").attr("x1", cx).attr("x2", cx).attr("y1", yPos - 4.8).attr("y2", yPos - 3).attr("stroke", "#333").attr("stroke-width", .7);
    label(g, 0, 0, c, {size, anchor: "end", fill: "#555"}).attr("transform", `translate(${cx + 2.5},${yPos + 2}) rotate(-45)`);
  });
}

const gG = svg.append("g");
const yG = d3.scaleLinear().domain([0, 3]).range([662, 536]);
const xG = groupedBars(gG, gLipids, gControl, gControlErr, gKnockout, gKnockoutErr, gSignif, gSignifLevel, [340, 687.3], yG, 9.5, 1.8);
gG.append("rect").attr("x", 334).attr("y", 521.7).attr("width", 359.3).attr("height", 146.6).attr("fill", "none").attr("stroke", "#333").attr("stroke-width", 1);
const axG = gG.append("g").attr("transform", "translate(334,0)")
  .call(d3.axisLeft(yG).tickValues([0, 1, 2, 3]).tickSize(2).tickPadding(2).tickFormat(d => d));
styleAxis(axG, 8);
axG.select(".domain").remove();
label(gG, 0, 0, "Fold change", {size: 8.4, fill: "#222"}).attr("transform", "translate(322,595) rotate(-90)");
slantedLabels(gG, gLipids, xG, 673, 8.1);

const gH = svg.append("g");
const yH = d3.scaleLinear().domain([0, 2]).range([905.3, 795]);
const hPanels = [{x0:335,x1:455.7,band:[343,448]},{x0:460.7,x1:691.7,band:[469,684]}];
hFacets.forEach((f, i) => {
  const p = hPanels[i];
  const xH = groupedBars(gH, hVolatiles[i], hControl[i], hControlErr[i], hKnockout[i], hKnockoutErr[i], hSignif[i], hSignifLevel[i], p.band, yH, 9.5, 2.2);
  gH.append("rect").attr("x", p.x0).attr("y", 742.7).attr("width", p.x1 - p.x0).attr("height", 170.3).attr("fill", "none").attr("stroke", "#333").attr("stroke-width", 1);
  gH.append("rect").attr("x", p.x0).attr("y", 728.7).attr("width", p.x1 - p.x0).attr("height", 14).attr("fill", "#fff").attr("stroke", "#333").attr("stroke-width", 1);
  gH.append("line").attr("x1", p.x0).attr("x2", p.x1).attr("y1", 742.7).attr("y2", 742.7).attr("stroke", "#000").attr("stroke-width", 1.4);
  label(gH, (p.x0 + p.x1) / 2, 738.6, f, {size: 8, fill: "#333"});
  slantedLabels(gH, hVolatiles[i], xH, 918, 8.1);
});
const axH = gH.append("g").attr("transform", "translate(335,0)")
  .call(d3.axisLeft(yH).tickValues([0, 1, 2]).tickSize(2).tickPadding(2).tickFormat(d => d));
styleAxis(axH, 8);
axH.select(".domain").remove();
label(gH, 0, 0, "Fold change", {size: 8.4, fill: "#333"}).attr("transform", "translate(322,824) rotate(-90)");

label(gH, 433, 996, "Group", {size: 8, anchor: "start", fill: "#333"});
[[462.7, 479, 0], [514, 530.7, 1]].forEach(([sx, tx, k]) => {
  gH.append("rect").attr("x", sx).attr("y", 987).attr("width", 11.7).attr("height", 12).attr("fill", groupColors[k]);
  label(gH, tx, 996, bothGroups[k], {size: 7.6, anchor: "start", fill: "#333"});
});

// ---------- Panel letters ----------
[["A",5,50],["B",5,206],["C",365,49],["D",405,206],["E",5,347.5],["F",5,533],["G",274,533],["H",274,742]].forEach(d => {
  label(svg, d[1], d[2], d[0], {size: 15.5, weight: "bold", anchor: "start", fill: "#000"});
});
</script>
</body>
</html>
